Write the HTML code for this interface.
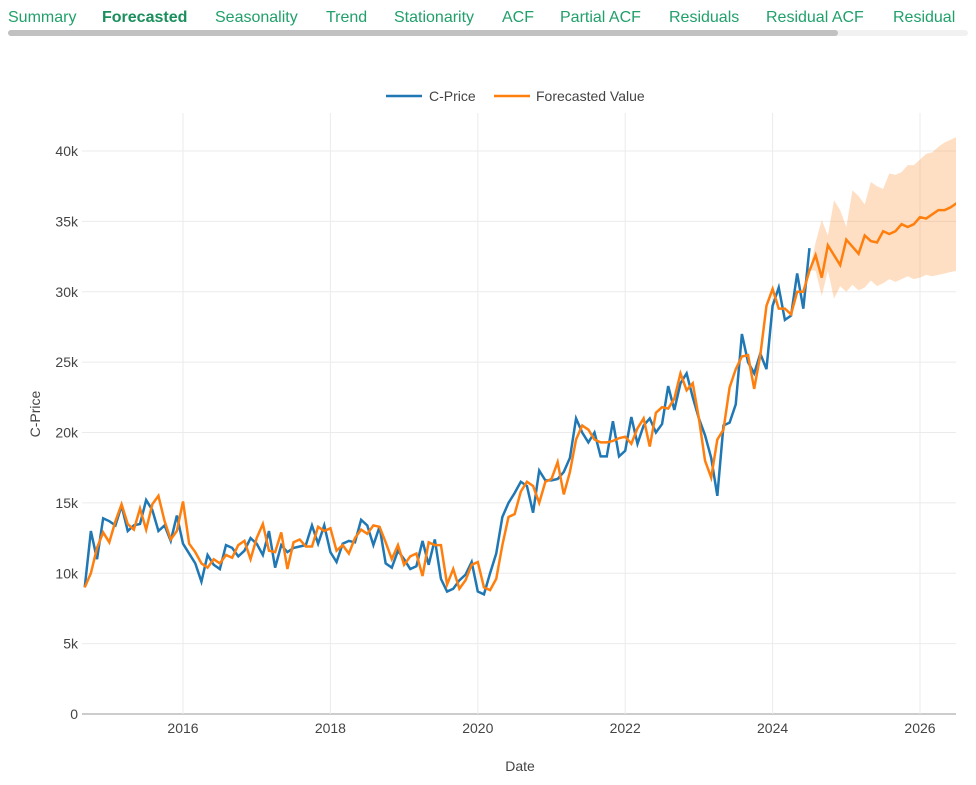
<!DOCTYPE html>
<html><head><meta charset="utf-8"><style>
body{margin:0;width:976px;height:785px;background:#fff;font-family:"Liberation Sans",sans-serif;overflow:hidden;position:relative}
.tabs span{position:absolute;top:9px;white-space:nowrap;font-size:16px;color:#21a06b}
.tabs .act{font-weight:bold;color:#1a8f5c}
.sb{position:absolute;left:8px;top:30px;width:830px;height:6px;background:#c1c1c1;border-radius:3px}
.sbt{position:absolute;left:8px;top:30px;width:960px;height:6px;background:#f1f1f1;border-radius:3px}
</style></head><body>
<div class="tabs">
<span style="left:8px">Summary</span><span class="act" style="left:102px">Forecasted</span><span style="left:215px">Seasonality</span><span style="left:326px">Trend</span><span style="left:394px">Stationarity</span><span style="left:502px">ACF</span><span style="left:560px">Partial ACF</span><span style="left:669px">Residuals</span><span style="left:766px">Residual ACF</span><span style="left:893px">Residual</span></div>
<div class="sbt"></div>
<div class="sb"></div>
<svg id="c" width="976" height="785" style="position:absolute;left:0;top:0"></svg>
<script>
const actual2014=[9.0,13.0,11.0,13.9];
const actualRest=[
13.7,13.4,14.8,13.0,13.4,13.5,15.2,14.5,13.0,13.4,12.3,14.1,
12.1,11.4,10.7,9.4,11.3,10.6,10.3,12.0,11.8,11.2,11.6,12.5,
12.1,11.3,13.0,10.4,12.0,11.5,11.8,11.9,12.0,13.4,12.1,13.4,
11.5,10.8,12.1,12.3,12.2,13.8,13.4,12.0,13.3,10.7,10.4,11.6,
11.0,10.3,10.5,12.3,10.6,12.4,9.6,8.7,8.9,9.5,9.9,10.8,
8.7,8.5,10.0,11.4,14.0,15.0,15.7,16.5,16.2,14.3,17.3,16.6,
16.6,16.7,17.2,18.2,21.0,20.0,19.3,20.0,18.3,18.3,20.8,18.3,
18.7,21.1,19.2,20.5,21.0,20.0,20.6,23.3,21.6,23.5,24.2,22.5,
21.0,19.8,18.2,15.5,20.5,20.7,22.0,27.0,25.0,24.2,25.6,24.5,
29.0,30.3,28.0,28.3,31.3,28.8,33.1];
const fitted=[9.0,10.0,11.8,12.9,
12.2,13.7,14.9,13.5,13.1,14.6,13.1,14.9,15.5,13.7,12.4,13.0,
15.1,12.1,11.5,10.7,10.4,11.0,10.7,11.3,11.1,12.0,12.3,11.0,
12.5,13.5,11.6,11.5,12.9,10.3,12.2,12.4,11.9,11.9,13.3,13.0,
13.2,11.6,12.0,11.4,12.5,13.1,12.8,13.4,13.3,12.2,11.0,12.0,
10.6,11.2,11.4,9.8,12.2,12.0,12.0,9.2,10.3,8.9,9.5,10.6,
10.8,9.0,8.8,9.6,12.0,14.0,14.2,15.8,16.5,16.2,15.0,16.5,
16.7,17.9,15.6,17.2,19.5,20.5,20.2,19.5,19.3,19.3,19.4,19.6,
19.7,19.2,20.3,21.0,19.0,21.4,21.8,21.7,22.4,24.2,23.0,23.5,
21.0,18.0,16.8,19.5,20.2,23.2,24.5,25.4,25.5,23.1,25.5,29.0,
30.2,28.8,28.8,28.4,30.0,30.0,31.5];
const forecast=[32.6,31.0,33.3,32.6,31.9,33.7,33.2,32.7,34.0,33.6,33.5,34.3,34.1,34.3,34.8,34.6,34.8,35.3,35.2,35.5,35.8,35.8,36.0,36.3];
const upper=[33.5,35.1,34.0,36.5,35.8,34.6,37.2,36.8,36.2,37.8,37.5,37.3,38.4,38.3,38.5,39.0,39.0,39.4,39.8,39.9,40.3,40.6,40.8,41.0];
const lower=[31.5,29.7,31.5,29.5,30.4,30.0,30.5,30.1,30.3,30.8,30.4,30.6,30.9,30.7,30.9,31.1,30.9,31.0,31.2,31.1,31.2,31.3,31.4,31.5];
const yTicks=[0,5,10,15,20,25,30,35,40];
const xTicks=[2016,2018,2020,2022,2024,2026];
const startYear=2014,startMonth=8; // Sep 2014 (0-based)
const NS='http://www.w3.org/2000/svg',svg=document.getElementById('c');
const L=82,R=956,T=113,B=714;
const xs=t=>183+(t-2016)*73.7;
const ys=v=>B-v*14.075;
const tm=i=>startYear+(startMonth+i)/12;
function mk(tag,at){const e=document.createElementNS(NS,tag);for(const k in at)e.setAttribute(k,at[k]);svg.appendChild(e);return e;}
const clip=mk('clipPath',{id:'cl'});const cr=document.createElementNS(NS,'rect');cr.setAttribute('x',L);cr.setAttribute('y',T);cr.setAttribute('width',R-L);cr.setAttribute('height',B-T);clip.appendChild(cr);
yTicks.forEach(v=>{const g=mk('line',{x1:L,x2:R,y1:ys(v),y2:ys(v),stroke:v?'#ebebeb':'#bbb','stroke-width':v?1:1.5});

const t=mk('text',{x:L-4,y:ys(v)+5,'text-anchor':'end','font-size':14,fill:'#444'});t.textContent=v?v+'k':'0';
});
xTicks.forEach(y=>{const g=mk('line',{x1:xs(y),x2:xs(y),y1:T,y2:B,stroke:'#ebebeb'});

const t=mk('text',{x:xs(y),y:B+19,'text-anchor':'middle','font-size':14,fill:'#444'});t.textContent=y;
});
const actual=actual2014.concat(actualRest);
const n=fitted.length;
let bp=[[xs(tm(n-1)),ys(fitted[n-1])]];
upper.forEach((v,i)=>bp.push([xs(tm(n+i)),ys(v)]));
for(let i=lower.length-1;i>=0;i--)bp.push([xs(tm(n+i)),ys(lower[i])]);
const band=mk('polygon',{points:bp.map(p=>p.join(',')).join(' '),fill:'rgba(255,127,14,0.25)','clip-path':'url(#cl)'});

const ap=actual.map((v,i)=>xs(tm(i))+','+ys(v)).join(' ');
const a=mk('polyline',{points:ap,fill:'none',stroke:'#1f77b4','stroke-width':2.5,'clip-path':'url(#cl)'});

const fv=fitted.concat(forecast);
const fp=fv.map((v,i)=>xs(tm(i))+','+ys(v)).join(' ');
const f=mk('polyline',{points:fp,fill:'none',stroke:'#ff7f0e','stroke-width':2.5,'clip-path':'url(#cl)'});

const yt=mk('text',{x:40,y:414,'text-anchor':'middle','font-size':14,fill:'#444',transform:'rotate(-90 40 414)'});yt.textContent='C-Price';

const xt=mk('text',{x:520,y:771,'text-anchor':'middle','font-size':14,fill:'#444'});xt.textContent='Date';

const l1=mk('line',{x1:386,x2:422,y1:96,y2:96,stroke:'#1f77b4','stroke-width':2.5});
const lt1=mk('text',{x:429,y:101,'font-size':14,fill:'#444'});lt1.textContent='C-Price';
const l2=mk('line',{x1:494,x2:530,y1:96,y2:96,stroke:'#ff7f0e','stroke-width':2.5});
const lt2=mk('text',{x:536,y:101,'font-size':14,fill:'#444'});lt2.textContent='Forecasted Value';
</script>
</body></html>
